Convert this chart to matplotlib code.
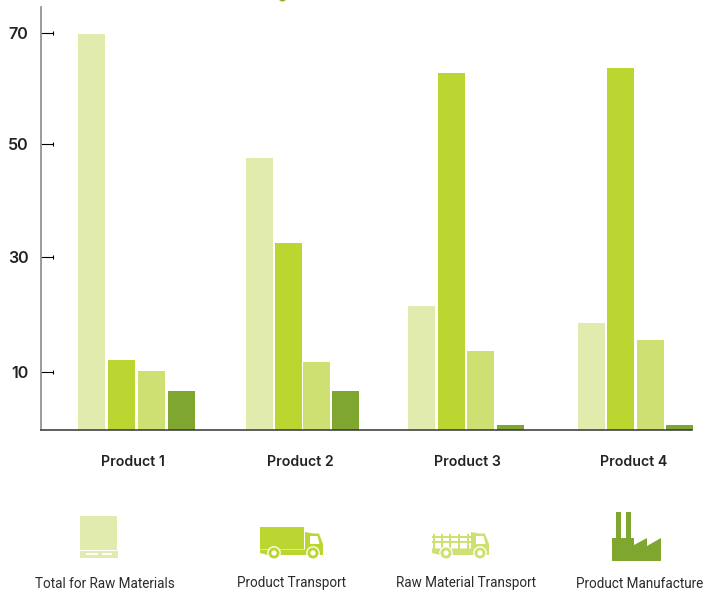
import matplotlib
matplotlib.use('Agg')
import matplotlib.pyplot as plt
from matplotlib.patches import Rectangle, Polygon, Circle, Ellipse

products = ['Product 1', 'Product 2', 'Product 3', 'Product 4']
legend_names = ['Total for Raw Materials', 'Product Transport', 'Raw Material Transport', 'Product Manufacture']

raw_materials = [69.9, 48.0, 21.9, 18.9]
product_transport = [12.4, 33.0, 63.0, 63.9]
raw_transport = [10.4, 12.0, 14.0, 15.9]
manufacture = [6.9, 6.9, 0.9, 0.9]

# the original axis is slightly uneven, so ticks sit where they were drawn
tick_labels = ['70', '50', '30', '10']
tick_pos = [70, 50.43, 30.5, 10.27]

colors = ['#e1ebad', '#bcd631', '#cfe072', '#7fa72f']
W, H = 711, 592

# x data units are pixels, groups are not quite even in the original
group_centres = [136.5, 302.5, 466, 635.5]
group_steps = [30, 28.9, 29.7, 29.3]
label_centres = [133, 300, 467, 634]
bar_w = 27

fig = plt.figure(figsize=(W / 100, H / 100), dpi=100)
top, bottom, left, right = 7, 430.3, 41, 692
ax = fig.add_axes([left / W, 1 - bottom / H, (right - left) / W, (bottom - top) / H])
ax.set_xlim(left, right)
ax.set_ylim(0, (bottom - top) / 5.671)

series = [raw_materials, product_transport, raw_transport, manufacture]
for i, values in enumerate(series):
    xs = [c + (i - 1.5) * s for c, s in zip(group_centres, group_steps)]
    ax.bar(xs, values, width=bar_w, color=colors[i], zorder=1, clip_on=False)

ax.spines['top'].set_visible(False)
ax.spines['right'].set_visible(False)
ax.spines['left'].set_color('#8a8a8a')
ax.spines['left'].set_linewidth(1.2)
ax.spines['bottom'].set_color('#333333')
ax.spines['bottom'].set_linewidth(1.1)

ax.set_yticks(tick_pos, tick_labels, family='Inter', fontsize=11.6, fontweight='semibold', color='#222222')
ax.tick_params(axis='y', direction='in', length=8.6, width=0.8, color='black', pad=9)
ax.plot([53] * 4, tick_pos, '|', color='black', ms=2.5, mew=0.8, zorder=3)
ax.set_xticks(label_centres, products, family='Inter', fontsize=10.2, fontweight='semibold', color='#222222')
ax.tick_params(axis='x', length=0, pad=18)

# icons and names under the chart, drawn in pixel coordinates
over = fig.add_axes([0, 0, 1, 1])
over.set_xlim(0, W)
over.set_ylim(H, 0)
over.axis('off')
over.patch.set_alpha(0)


def rect(x0, y0, x1, y1, color):
    over.add_patch(Rectangle((x0, y0), x1 - x0, y1 - y0, fc=color, ec='none'))


def wheel(x, y, color):
    over.add_patch(Circle((x, y), 6.8, fc='white', ec='none'))
    over.add_patch(Circle((x, y), 5.5, fc=color, ec='none'))
    over.add_patch(Circle((x, y), 2.6, fc='white', ec='none'))


def cab(x0, x1, y0, color):
    over.add_patch(Polygon([(x0, y0), (x0 + 8, y0 + 1.5), (x1 - 4, y0 + 1.5), (x1, y0 + 12),
                            (x1, 555), (x0, 555)], fc=color, ec='none'))
    over.add_patch(Polygon([(x0 + 5, y0 + 4), (x1 - 5.5, y0 + 4), (x1 - 3.5, y0 + 12), (x0 + 5, y0 + 12)],
                           fc='white', ec='none'))


# pallet
c = colors[0]
rect(80, 516, 117, 550, c)
rect(80, 551, 118, 558, c)
rect(86, 553, 98, 555, 'white')
rect(102, 553, 112, 555, 'white')

# product truck
c = colors[1]
rect(260, 527, 304, 548.5, c)
over.add_patch(Polygon([(260, 549.5), (323, 549.5), (323, 555), (268, 555), (260, 553)], fc=c, ec='none'))
cab(305, 323, 532, c)
wheel(274, 553, c)
wheel(313, 553, c)

# raw material truck
c = colors[2]
for x in [433, 441, 449, 458, 467]:
    rect(x, 534, x + 2.2, 549, c)
for y in [535.5, 541]:
    rect(432, y, 471, y + 2.2, c)
over.add_patch(Polygon([(432, 548.5), (489, 548.5), (489, 555), (440, 555), (432, 553)], fc=c, ec='none'))
cab(471, 489, 532, c)
wheel(446, 553, c)
wheel(480, 553, c)

# factory
c = colors[3]
rect(616, 512, 621, 540, c)
rect(626, 512, 631, 540, c)
over.add_patch(Polygon([(612, 538), (634, 538), (634, 545), (647, 538), (647, 546), (661, 538),
                        (661, 561), (612, 561)], fc=c, ec='none'))

# bit of the cut off title at the top edge
over.add_patch(Ellipse((282.5, -1), 7, 5, fc='#8ab32f', ec='none'))

for name, x in zip(legend_names, [104.5, 291.5, 465.5, 639.5]):
    over.text(x, 587.5, name, family='Roboto', fontsize=9.75, color='#2b2b2b', ha='center', va='baseline')

fig.savefig('out.png', dpi=100)
